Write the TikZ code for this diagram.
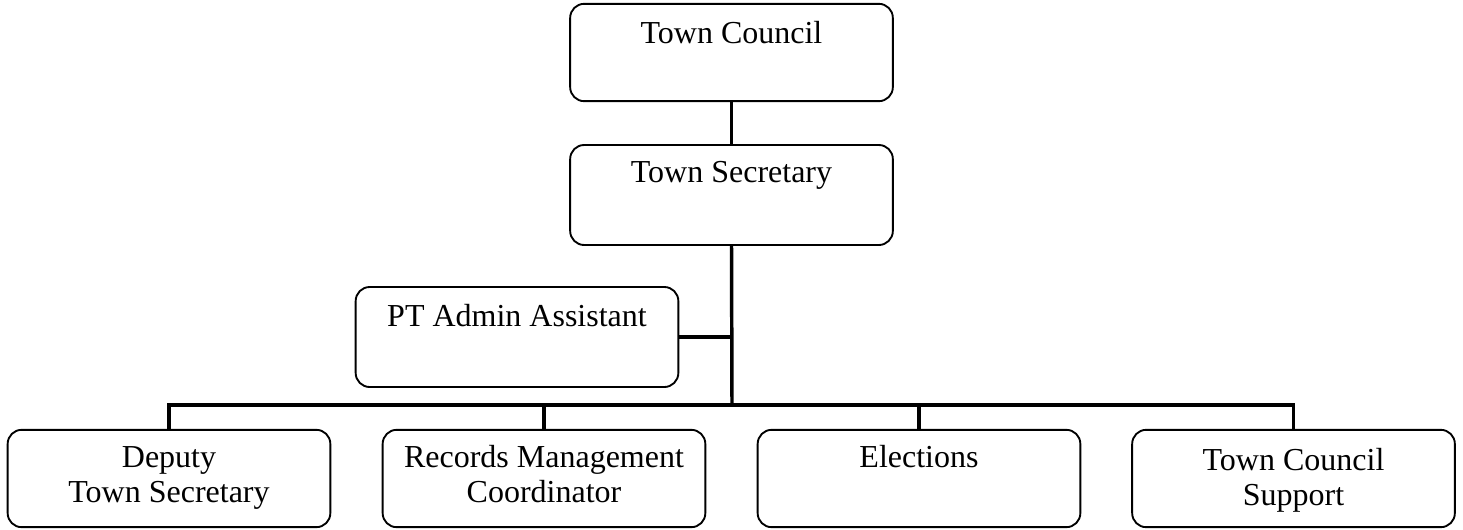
\documentclass[tikz,border=0pt]{standalone}
\usepackage{fontspec}
\setmainfont{Liberation Serif}
\begin{document}
\begin{tikzpicture}[x=0.75pt, y=-0.75pt,
  unitbox/.style={draw, line width=1.4pt, rounded corners=10.5pt, inner sep=0pt,
    minimum width=242pt, minimum height=73pt},
  tallbox/.style={unitbox, minimum height=75pt},
  lbl/.style={anchor=base, align=center, inner sep=0pt,
    font=\fontsize{24}{26.25}\selectfont},
  link/.style={line width=2.6pt}]
  \useasboundingbox (0,0) rectangle (1463,529);

  % boxes
  \node[unitbox] (tc) at (731.5,52.5) {};
  \node[tallbox] (ts) at (731.5,195) {};
  \node[tallbox] (pt) at (517,337) {};
  \node[unitbox] (b1) at (169,478.5) {};
  \node[unitbox] (b2) at (544,478.5) {};
  \node[unitbox] (b3) at (919,478.5) {};
  \node[unitbox] (b4) at (1293.5,478.5) {};

  % labels; a two-line label sits on the baseline of its last line
  \node[lbl] (tc-t) at (731.5,43) {Town Council};
  \node[lbl] (ts-t) at (731.5,182) {Town Secretary};
  \node[lbl] (pt-t) at (517,326) {PT Admin Assistant};
  \node[lbl] (b1-t) at (169,502) {Deputy\\Town Secretary};
  \node[lbl] (b2-t) at (544,502) {Records Management\\Coordinator};
  \node[lbl] (b3-t) at (919,467) {Elections};
  \node[lbl] (b4-t) at (1293.5,505) {Town Council\\Support};

  % connectors
  \coordinate (bus) at (732,405);
  \draw[link] (tc.south) -- (ts.north);
  \draw[link] (ts.south) -- (bus);
  \draw[link] (pt.east) -- (pt.east -| bus);
  \draw[link] (b1.north) |- (b4.north |- bus) -- (b4.north);
  \draw[link] (b2.north) -- (b2.north |- bus);
  \draw[link] (b3.north) -- (b3.north |- bus);
\end{tikzpicture}
\end{document}
